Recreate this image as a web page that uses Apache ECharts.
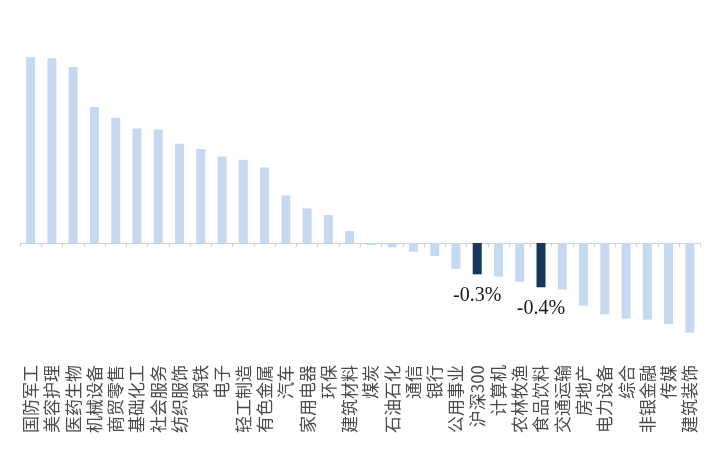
<!DOCTYPE html>
<html>
<head>
<meta charset="utf-8">
<script src="https://cdn.jsdelivr.net/npm/echarts@6/dist/echarts.min.js"></script>
<style>
  html, body { margin: 0; padding: 0; background: #fff; }
  #chart { width: 720px; height: 456px; }
</style>
</head>
<body>
<div id="chart"></div>
<script>
  var industries = ['国防军工', '美容护理', '医药生物', '机械设备', '商贸零售', '基础化工', '社会服务', '纺织服饰',
    '钢铁', '电子', '轻工制造', '有色金属', '汽车', '家用电器', '环保', '建筑材料',
    '煤炭', '石油石化', '通信', '银行', '公用事业', '沪深300', '计算机', '农林牧渔',
    '食品饮料', '交通运输', '房地产', '电力设备', '综合', '非银金融', '传媒', '建筑装饰'];
  // weekly change, %
  var changes = [1.72, 1.71, 1.63, 1.26, 1.16, 1.06, 1.05, 0.92,
    0.87, 0.80, 0.77, 0.70, 0.44, 0.32, 0.26, 0.11,
    -0.02, -0.04, -0.08, -0.12, -0.24, -0.29, -0.31, -0.36,
    -0.41, -0.43, -0.58, -0.66, -0.70, -0.71, -0.75, -0.83];
  var highlighted = ['沪深300', '食品饮料'];

  var seriesData = changes.map(function (v, i) {
    var item = { value: v };
    if (highlighted.indexOf(industries[i]) >= 0) {
      item.itemStyle = { color: '#17375e' };
      item.label = { show: true };
    }
    return item;
  });

  var chart = echarts.init(document.getElementById('chart'));
  chart.setOption({
    animation: false,
    grid: { left: 20, right: 19.5, top: 48.6, bottom: 105, containLabel: false, outerBoundsMode: 'none' },
    xAxis: [{
      // zero line with ticks
      type: 'category',
      data: industries,
      axisLine: { onZero: true, lineStyle: { color: '#cfcfcf', width: 1 } },
      axisTick: { show: true, length: 4, interval: 0, lineStyle: { color: '#cfcfcf' } },
      axisLabel: { show: false },
      splitLine: { show: false }
    }, {
      // labels at the bottom of the plot
      type: 'category',
      data: industries,
      position: 'bottom',
      axisLine: { show: false, onZero: false },
      axisTick: { show: false },
      axisLabel: {
        interval: 0,
        rotate: 90,
        margin: 14,
        fontSize: 17,
        color: '#4a4a4a',
        fontFamily: 'Noto Sans CJK SC'
      },
      splitLine: { show: false }
    }],
    yAxis: {
      type: 'value',
      min: -1,
      max: 1.8,
      show: false,
      splitLine: { show: false }
    },
    series: [{
      type: 'bar',
      xAxisIndex: 0,
      data: seriesData,
      barWidth: 9,
      itemStyle: { color: '#c6d9f1' },
      label: {
        show: false,
        position: 'bottom',
        distance: 11,
        fontSize: 20,
        fontFamily: 'Liberation Serif',
        color: '#1a1a1a',
        formatter: function (p) { return p.value.toFixed(1) + '%'; }
      }
    }]
  });
</script>
</body>
</html>
